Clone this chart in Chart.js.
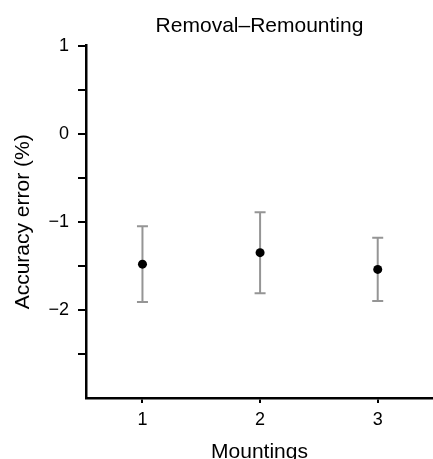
<!DOCTYPE html>
<html>
<head>
<meta charset="utf-8">
<script src="https://cdn.jsdelivr.net/npm/chart.js@4.4.1/dist/chart.umd.min.js"></script>
<style>
    html, body { margin: 0; padding: 0; background: #fff; }
    #wrap { width: 433px; height: 459px; }
</style>
</head>
<body>
<div id="wrap"><canvas id="errorChart" width="433" height="459"></canvas></div>
<script>
// Data
const mountings = [1, 2, 3];
const meanError = [-1.48, -1.35, -1.54];
const lowerError = [-1.91, -1.81, -1.90];
const upperError = [-1.05, -0.89, -1.18];
const xTicks = [1, 2, 3];
const yTicks = [-2.5, -2, -1.5, -1, -0.5, 0, 0.5, 1];

const FONT = "'Liberation Sans', Arial, Helvetica, sans-serif";

// Draw the vertical error bars under the points
const errorBars = {
    id: 'errorBars',
    beforeDatasetsDraw(chart) {
        const ctx = chart.ctx;
        const x = chart.scales.x;
        const y = chart.scales.y;
        ctx.save();
        ctx.strokeStyle = '#959595';
        ctx.lineWidth = 2;
        mountings.forEach((m, i) => {
            const px = x.getPixelForValue(m);
            const top = y.getPixelForValue(upperError[i]);
            const bottom = y.getPixelForValue(lowerError[i]);
            ctx.beginPath();
            ctx.moveTo(px, top);
            ctx.lineTo(px, bottom);
            ctx.moveTo(px - 5.5, top);
            ctx.lineTo(px + 5.5, top);
            ctx.moveTo(px - 5.5, bottom);
            ctx.lineTo(px + 5.5, bottom);
            ctx.stroke();
        });
        ctx.restore();
    }
};

new Chart(document.getElementById('errorChart'), {
    type: 'scatter',
    data: {
        datasets: [{
            data: mountings.map((m, i) => ({ x: m, y: meanError[i] })),
            backgroundColor: '#000',
            borderWidth: 0,
            pointRadius: 4.5
        }]
    },
    options: {
        responsive: false,
        animation: false,
        events: [],
        layout: { autoPadding: false, padding: 0 },
        plugins: {
            legend: { display: false },
            tooltip: { enabled: false },
            title: {
                display: true,
                text: 'Removal\u2013Remounting',
                color: '#000',
                fullSize: false,
                font: { family: FONT, size: 21, weight: 'normal' },
                padding: { top: 14, bottom: 6.5 }
            }
        },
        scales: {
            x: {
                type: 'linear',
                min: 0.52,
                max: 3.47,
                afterBuildTicks(scale) {
                    scale.ticks = xTicks.map(v => ({ value: v }));
                },
                afterFit(scale) {
                    scale.height = 61;
                },
                grid: {
                    drawOnChartArea: false,
                    drawTicks: true,
                    tickLength: 5,
                    color: '#000',
                    lineWidth: 2
                },
                border: { display: true, color: '#000', width: 2.5 },
                ticks: {
                    color: '#000',
                    padding: 6,
                    font: { family: FONT, size: 18 }
                },
                title: {
                    display: true,
                    text: 'Mountings',
                    color: '#000',
                    font: { family: FONT, size: 21, lineHeight: 1 },
                    padding: { top: 0, bottom: -4 }
                }
            },
            y: {
                type: 'linear',
                min: -3,
                max: 1,
                afterBuildTicks(scale) {
                    scale.ticks = yTicks.map(v => ({ value: v }));
                },
                afterFit(scale) { scale.width = 86; },
                grid: {
                    drawOnChartArea: false,
                    drawTicks: true,
                    tickLength: 8,
                    color: '#000',
                    lineWidth: 2
                },
                border: { display: true, color: '#000', width: 2.5 },
                ticks: {
                    color: '#000',
                    padding: 9,
                    font: { family: FONT, size: 18 },
                    callback: v => Number.isInteger(v) ? (v < 0 ? '\u2212' + Math.abs(v) : String(v)) : ''
                },
                title: {
                    display: true,
                    text: 'Accuracy error (%)',
                    color: '#000',
                    font: { family: FONT, size: 21, lineHeight: 1.2 },
                    padding: { top: 11, bottom: 0 }
                }
            }
        }
    },
    plugins: [errorBars]
});
</script>
</body>
</html>
